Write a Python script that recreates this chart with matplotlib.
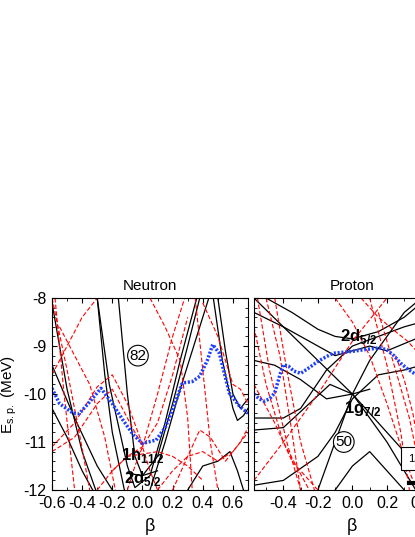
import numpy as np
import matplotlib.pyplot as plt
from matplotlib.ticker import MultipleLocator

plt.rcParams["font.family"] = ["Liberation Sans", "DejaVu Sans"]
plt.rcParams["axes.unicode_minus"] = False
plt.rcParams["mathtext.fontset"] = "custom"
plt.rcParams["mathtext.rm"] = "Liberation Sans"
plt.rcParams["mathtext.bf"] = "Liberation Sans:bold"

# neutron panel: black (solid) levels
n_black = [
    ([-0.16, -0.1, -0.05, 0.0, 0.1, 0.2, 0.3, 0.38], [-8, -10, -11.3, -11.7, -11.3, -10.2, -9.0, -8]),
    ([-0.3, -0.22, -0.1, -0.05, 0.05, 0.15, 0.25, 0.36], [-8, -9.8, -11.5, -11.95, -11.7, -10.6, -9.3, -8]),
    ([-0.6, -0.5, -0.4, -0.31], [-8.1, -9.9, -11.2, -12]),
    ([-0.6, -0.5, -0.4, -0.33], [-10.3, -10.9, -11.6, -12]),
    ([-0.6, -0.45, -0.3, -0.2], [-9.4, -10.5, -11.5, -12]),
    ([-0.3, -0.25, -0.2, -0.12], [-8, -9.6, -10.8, -12]),
    ([0.05, 0.15, 0.25, 0.35, 0.44], [-12, -11.0, -9.9, -8.9, -8]),
    ([0.47, 0.53, 0.6, 0.63, 0.67, 0.7], [-8, -9.3, -10.3, -10.55, -10.45, -10.3]),
    ([0.5, 0.55, 0.6, 0.65, 0.7], [-8, -9.1, -10.0, -10.3, -10.1]),
    ([0.3, 0.4, 0.5, 0.58, 0.63, 0.67], [-12, -11.5, -11.4, -11.2, -11.6, -12]),
    ([-0.1, 0.0, 0.1], [-11.65, -11.7, -11.6]),
]
n_red = [
    ([-0.6, -0.45, -0.3, -0.2, -0.1, 0.0], [-11.1, -10.6, -9.85, -9.6, -10.2, -11.05]),
    ([-0.6, -0.45, -0.3, -0.2, -0.1, 0.0], [-11.2, -10.9, -10.2, -9.9, -10.5, -11.1]),
    ([-0.6, -0.5, -0.4, -0.3, -0.2, -0.1, 0.0], [-9.6, -9.0, -8.4, -8.0, -7.5, -7.0, -6.5]),
    ([-0.55, -0.45, -0.35, -0.25, -0.18], [-8.6, -9.2, -9.8, -10.9, -12]),
    ([-0.6, -0.5, -0.42, -0.35], [-8.0, -9.5, -10.8, -12]),
    ([-0.58, -0.52, -0.45], [-8.0, -10.0, -12]),
    ([-0.3, -0.2, -0.1, 0.0, 0.1, 0.2, 0.3], [-12, -11.6, -11.3, -11.1, -10.6, -9.6, -8.4]),
    ([-0.2, -0.1, 0.0, 0.1, 0.2, 0.3, 0.4], [-11.6, -11.3, -11.25, -11.2, -11.3, -11.5, -11.8]),
    ([0.0, 0.1, 0.2, 0.28], [-11.1, -10.0, -8.8, -8.0]),
    ([0.05, 0.15, 0.25, 0.3, 0.33], [-8.0, -8.6, -9.3, -10.5, -12]),
    ([0.2, 0.3, 0.38, 0.45, 0.55, 0.65, 0.7], [-12, -11.3, -10.75, -10.9, -11.4, -11.0, -10.7]),
    ([0.35, 0.4, 0.45, 0.5], [-8.0, -9.5, -11.0, -12]),
    ([0.4, 0.5, 0.6, 0.65, 0.7], [-8.1, -8.8, -9.8, -9.9, -10.2]),
    ([-0.1, -0.05, 0.0, 0.05, 0.1], [-12, -11.5, -11.1, -11.6, -12]),
    ([0.1, 0.2, 0.3, 0.4, 0.5, 0.6, 0.7], [-12, -11.6, -11.3, -11.2, -11.4, -11.2, -10.8]),
]
n_fermi_b = [-0.6, -0.55, -0.46, -0.42, -0.36, -0.275, -0.2, -0.13, -0.06, 0.0, 0.09, 0.15,
             0.2, 0.265, 0.33, 0.38, 0.43, 0.466, 0.51, 0.576, 0.645, 0.7]
n_fermi_e = [-9.88, -10.2, -10.4, -10.41, -10.2, -9.88, -10.2, -10.54, -10.85, -11.03, -10.96, -10.7,
             -10.33, -9.77, -9.74, -9.63, -9.3, -8.97, -9.15, -9.98, -10.26, -10.4]

p_black = [
    ([-0.57, -0.4, -0.2, 0.0, 0.2, 0.4, 0.57], [-8.0, -8.6, -9.3, -10.0, -11.0, -12.2, -13]),
    ([-0.2, -0.1, 0.0, 0.1, 0.2, 0.3, 0.4], [-12, -11.0, -10.0, -9.3, -8.8, -8.3, -8.0]),
    ([-0.5, -0.35, -0.2, -0.1, 0.0, 0.15, 0.3, 0.4], [-8.0, -8.3, -8.65, -8.8, -8.85, -8.7, -8.4, -8.1]),
    ([-0.57, -0.4, -0.2, -0.1, 0.0, 0.1, 0.2, 0.4], [-8.3, -8.6, -9.0, -9.2, -9.1, -9.0, -9.1, -8.8]),
    ([-0.57, -0.4, -0.3, -0.15, 0.0, 0.15, 0.3, 0.4], [-10.5, -10.5, -10.3, -9.5, -9.0, -8.8, -8.6, -8.5]),
    ([-0.57, -0.4, -0.25, -0.13, 0.0, 0.15, 0.3, 0.4], [-10.75, -10.7, -10.2, -9.8, -10.0, -10.6, -11.2, -11.8]),
    ([-0.57, -0.4, -0.2, -0.1, 0.0, 0.15, 0.3, 0.4], [-11.9, -11.8, -11.3, -10.8, -10.1, -9.6, -9.5, -9.4]),
    ([-0.57, -0.45, -0.3, -0.15, 0.0, 0.1], [-9.3, -9.4, -9.7, -10.1, -10.0, -9.9]),
    ([-0.1, 0.0, 0.1, 0.2, 0.3], [-12, -11.5, -11.2, -11.6, -12]),
]
p_red = [
    ([-0.55, -0.48, -0.38, -0.3], [-8.0, -9.5, -11.0, -12]),
    ([-0.57, -0.5, -0.4, -0.25], [-8.6, -9.8, -11.0, -12]),
    ([-0.57, -0.45, -0.35, -0.2], [-9.8, -10.6, -11.4, -12]),
    ([-0.5, -0.42, -0.35, -0.3], [-8.0, -9.2, -10.8, -12]),
    ([-0.45, -0.38, -0.3, -0.22], [-8.0, -9.5, -11.0, -12]),
    ([-0.57, -0.4, -0.2, 0.0, 0.2, 0.37], [-11.8, -11.0, -10.0, -8.9, -8.0, -7.2]),
    ([-0.1, 0.0, 0.1, 0.2, 0.3, 0.37], [-8.0, -8.5, -9.2, -10.2, -11.3, -12]),
    ([0.05, 0.15, 0.25, 0.32, 0.37], [-8.0, -8.4, -8.7, -8.9, -9.1]),
    ([0.1, 0.2, 0.28, 0.33], [-8.0, -9.4, -10.8, -12]),
    ([0.15, 0.25, 0.33, 0.37], [-8.3, -9.5, -10.5, -11.2]),
    ([0.25, 0.3, 0.35, 0.37], [-9.2, -9.7, -10.4, -10.8]),
]
p_fermi_b = [-0.57, -0.54, -0.51, -0.48, -0.45, -0.42, -0.4, -0.37, -0.34, -0.3, -0.25, -0.2, -0.15,
             -0.11, -0.05, 0.0, 0.08, 0.16, 0.2, 0.24, 0.28, 0.32, 0.37]
p_fermi_e = [-10.0, -10.1, -10.15, -10.1, -9.98, -9.6, -9.39, -9.42, -9.52, -9.57, -9.45, -9.32, -9.22,
             -9.15, -9.13, -9.11, -9.07, -9.04, -9.08, -9.2, -9.36, -9.48, -9.6]

fig = plt.figure(figsize=(4.15, 5.37), dpi=100)
ax1 = fig.add_axes([0.1253, 0.0875, 0.4723, 0.3575])
ax2 = fig.add_axes([0.612, 0.0875, 0.4723, 0.3575])

def panel(ax, black, red, fb, fe):
    for b, e in black:
        ax.plot(b, e, color="black", lw=0.9)
    for b, e in red:
        ax.plot(b, e, color="red", lw=0.8, ls=(0, (4, 2)))
    ax.plot(fb, fe, color="#1f3fff", lw=2.5, ls=(0, (0.6, 0.5)))
    ax.set_ylim(-12, -8)
    ax.yaxis.set_major_locator(MultipleLocator(1))
    ax.yaxis.set_minor_locator(MultipleLocator(0.2))
    ax.xaxis.set_major_locator(MultipleLocator(0.2))
    ax.xaxis.set_minor_locator(MultipleLocator(0.1))
    ax.tick_params(which="both", direction="in", top=True, right=True, labelsize=11.5, pad=4)
    ax.set_xlabel("β", fontsize=13, labelpad=5)

panel(ax1, n_black, n_red, n_fermi_b, n_fermi_e)
ax1.set_xlim(-0.6, 0.7)
ax1.set_title("Neutron", fontsize=11, pad=6)
ax1.set_ylabel("E$_{\\rm s.p.}$ (MeV)", fontsize=11, labelpad=3)
ax1.text(-0.03, -9.2, "82", ha="center", va="center", fontsize=11,
         bbox=dict(boxstyle="circle,pad=0.12", fc="white", ec="black", lw=0.8))
ax1.text(0.0, -11.28, "1h$_{\\bf 11/2}$", ha="center", va="center", fontsize=12, fontweight="bold")
ax1.text(0.0, -11.75, "2d$_{\\bf 5/2}$", ha="center", va="center", fontsize=12, fontweight="bold")

panel(ax2, p_black, p_red, p_fermi_b, p_fermi_e)
ax2.set_xlim(-0.57, 0.565)
ax2.tick_params(labelleft=False)
ax2.set_title("Proton", fontsize=11, pad=6)
ax2.text(-0.07, -8.8, "2d$_{\\bf 5/2}$", ha="left", va="center", fontsize=12, fontweight="bold")
ax2.text(-0.05, -10.3, "1g$_{\\bf 7/2}$", ha="left", va="center", fontsize=12, fontweight="bold")
ax2.text(-0.05, -11.0, "50", ha="center", va="center", fontsize=11,
         bbox=dict(boxstyle="circle,pad=0.12", fc="white", ec="black", lw=0.8))
ax2.text(0.32, -11.35, "134", ha="left", va="center", fontsize=8,
         bbox=dict(boxstyle="square,pad=0.6", fc="white", ec="black", lw=0.8))
ax2.plot([0.33, 0.5], [-11.85, -11.85], color="black", lw=3)

fig.savefig("out.png", dpi=100, facecolor="white")
